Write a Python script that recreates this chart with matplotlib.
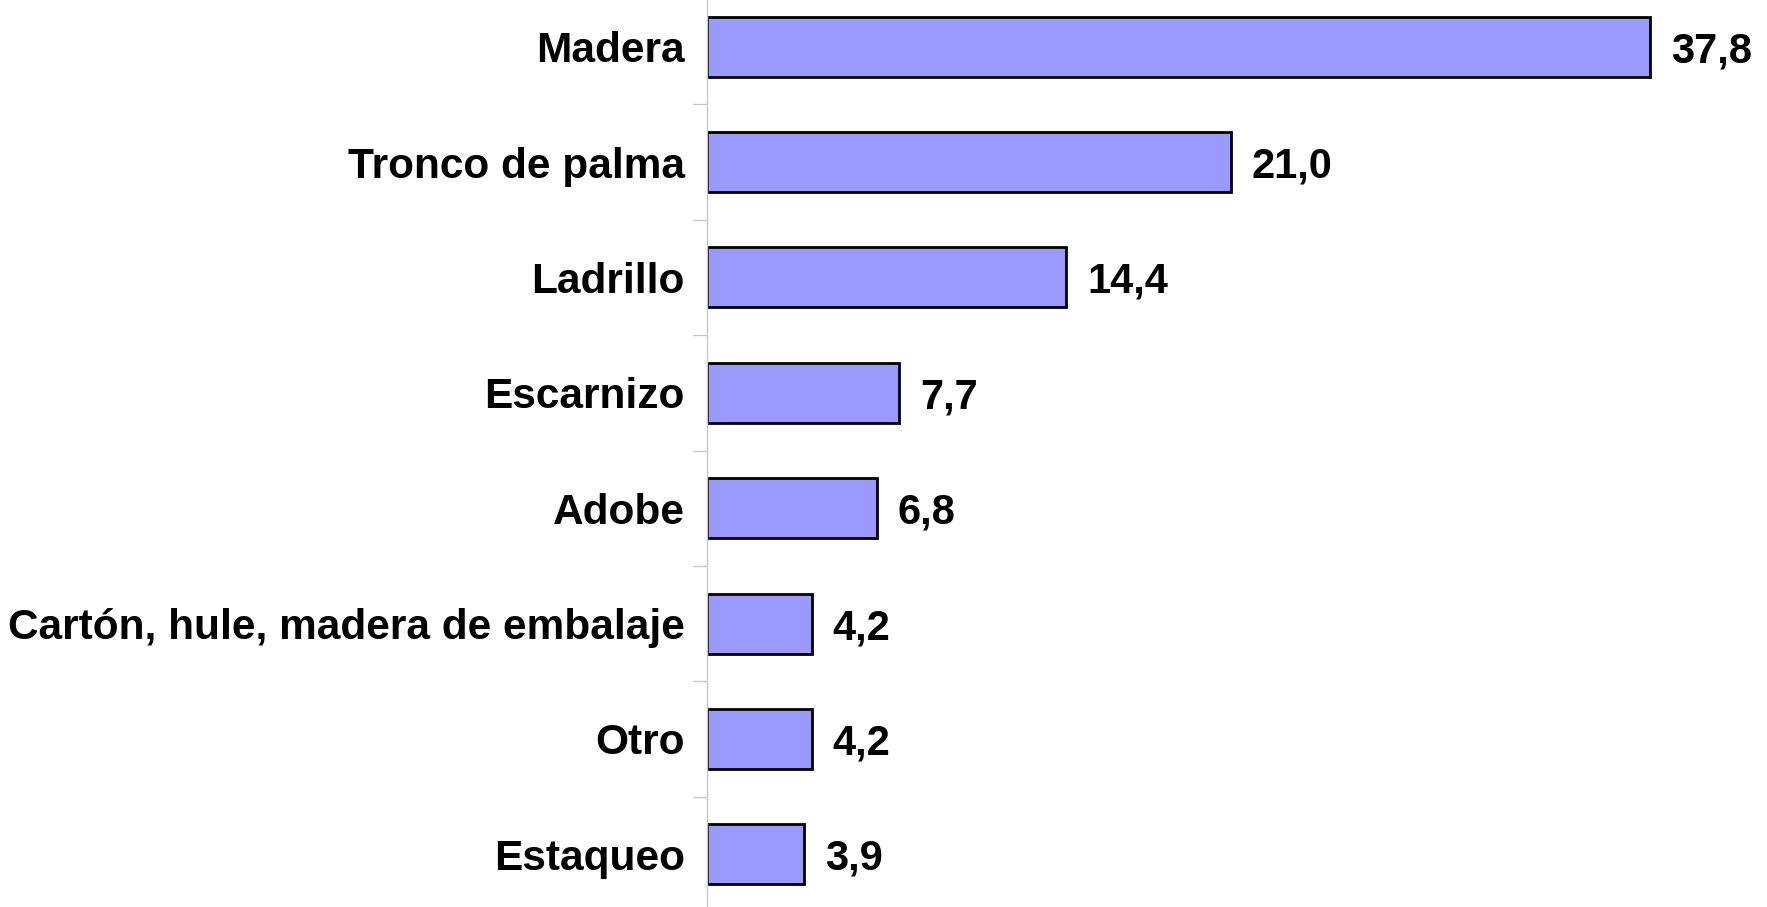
import numpy as np
import matplotlib.pyplot as plt
from matplotlib.ticker import FixedLocator

# data, top to bottom
categories = ["Madera", "Tronco de palma", "Ladrillo", "Escarnizo", "Adobe",
              "Cartón, hule, madera de embalaje", "Otro", "Estaqueo"]
values = [37.8, 21.0, 14.4, 7.7, 6.8, 4.2, 4.2, 3.9]
value_labels = ["37,8", "21,0", "14,4", "7,7", "6,8", "4,2", "4,2", "3,9"]

plt.rcParams['font.family'] = ['Liberation Sans', 'DejaVu Sans']

W, H = 1767, 907
fig = plt.figure(figsize=(W / 100, H / 100), dpi=100)
ax = fig.add_axes([707 / W, -5 / H, 1 - 707 / W, 923 / H])

n = len(categories)
y = np.arange(n)
ax.barh(y, values, height=0.52, color="#9999FF", edgecolor="black", linewidth=2)

ax.set_xlim(0, 42.5)
ax.set_ylim(n - 0.5, -0.5)

ax.set_yticks(y)
ax.set_yticklabels(categories, fontsize=30.5, fontweight="bold")
ax.tick_params(axis="y", which="major", length=0, pad=16)
ax.yaxis.set_minor_locator(FixedLocator(np.arange(0.5, n - 1, 1.0)))
ax.tick_params(axis="y", which="minor", length=10, color="#c8c8c8", width=1)
ax.set_xticks([])

for s in ["top", "right", "bottom"]:
    ax.spines[s].set_visible(False)
ax.spines["left"].set_color("#c8c8c8")
ax.spines["left"].set_linewidth(1)

for yi, v, lab in zip(y, values, value_labels):
    ax.annotate(lab, (v, yi), xytext=(15, 0), textcoords="offset points",
                va="center_baseline", ha="left", fontsize=30, fontweight="bold")

fig.savefig("out.png", dpi=100)
